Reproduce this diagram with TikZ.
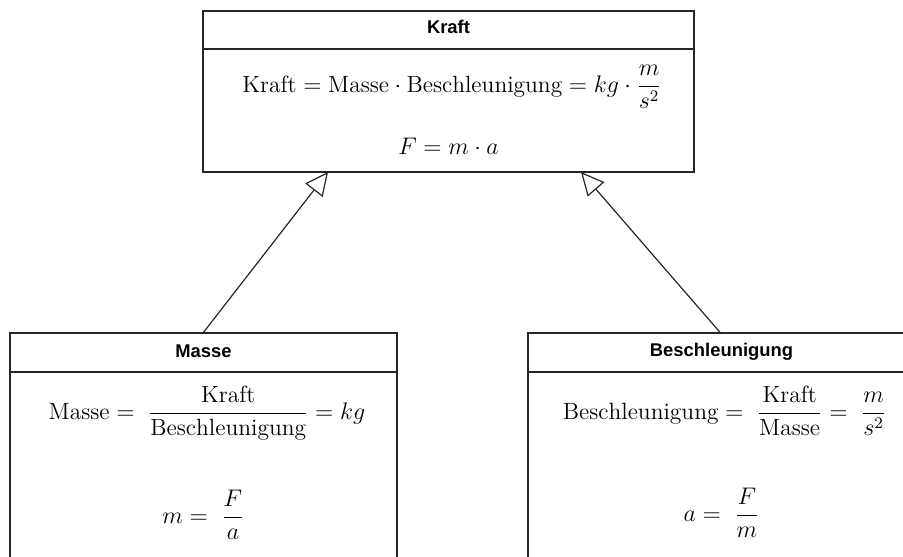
\documentclass[tikz,border=0pt]{standalone}
\usepackage{fontspec}
\newfontfamily\hdrfont{Liberation Sans}
\usetikzlibrary{arrows.meta}
\begin{document}
\begin{tikzpicture}[x=0.5pt,y=-0.5pt,
  box/.style={draw=black!85, line width=0.65pt, rectangle, inner sep=0pt, fill=white},
  hdr/.style={anchor=base, inner sep=0pt, font=\hdrfont\bfseries\fontsize{9.2}{11}\selectfont},
  mth/.style={anchor=base, inner sep=0pt, font=\fontsize{11.75}{14}\selectfont},
  inherit/.style={draw=black!85, line width=0.6pt, -{Triangle[open, length=11.5pt, width=11pt, fill=white]}}
]
\useasboundingbox[clip] (0,0) rectangle (903,556);
% boxes
\node[box, minimum width=245.5pt, minimum height=80.5pt] (kraft) at (448.5,91.5) {};
\node[box, minimum width=193.5pt, minimum height=140pt] (masse) at (203.5,473) {};
\node[box, minimum width=193.5pt, minimum height=140pt] (besch) at (721.5,473) {};
% header dividers
\draw[draw=black!85, line width=0.65pt] (203,49) -- (694,49);
\draw[draw=black!85, line width=0.65pt] (10,372) -- (397,372);
\draw[draw=black!85, line width=0.65pt] (528,372) -- (915,372);
% headers
\node[hdr] (kraftH) at (448.5,34) {Kraft};
\node[hdr] (masseH) at (203.5,357) {Masse};
\node[hdr] (beschH) at (721.5,356) {Beschleunigung};
% formulas
\node[mth] (kraftA) at (452,92) {$\mathrm{Kraft}=\mathrm{Masse}\cdot\mathrm{Beschleunigung}=kg\cdot\displaystyle\frac{m}{s^2}$};
\node[mth] (kraftB) at (448.5,154) {$F=m\cdot a$};
\node[mth] (masseA) at (207,419) {$\displaystyle\mathrm{Masse}=\;\frac{\mathrm{Kraft}}{\mathrm{Beschleunigung}}=kg$};
\node[mth] (masseB) at (203.5,523) {$\displaystyle m=\;\frac{F}{a}$};
\node[mth] (beschA) at (724.5,419) {$\displaystyle\mathrm{Beschleunigung}=\;\frac{\mathrm{Kraft}}{\mathrm{Masse}}=\;\frac{m}{s^2}$};
\node[mth] (beschB) at (721.5,521) {$\displaystyle a=\;\frac{F}{m}$};
% connectors
\coordinate (tipL) at (328,172);
\coordinate (tipR) at (581,172);
\draw[inherit] (masse.north) -- (tipL);
\draw[inherit] (besch.north -| 720,0) -- (tipR);
\end{tikzpicture}
\end{document}
